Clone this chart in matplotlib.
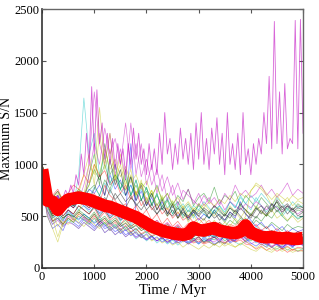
import numpy as np
import matplotlib
matplotlib.use('Agg')
import matplotlib.pyplot as plt

plt.rcParams['font.family'] = ['Liberation Serif', 'DejaVu Serif']

# thin runs, one value every 100 Myr from 0 to 5000
blue_runs = [
    [1000, 620, 480, 520, 450, 560, 500, 470, 520, 480, 430, 470, 400, 440, 380, 420, 360, 390, 330, 300,
     270, 310, 260, 290, 250, 280, 240, 270, 230, 260, 300, 250, 280, 230, 260, 300, 240, 270, 320, 250,
     280, 350, 230, 200, 260, 220, 180, 230, 200, 250, 220],
    [800, 500, 380, 420, 360, 480, 440, 400, 470, 430, 380, 450, 420, 360, 400, 330, 370, 310, 350, 290,
     330, 270, 300, 250, 280, 230, 260, 290, 240, 270, 230, 280, 250, 300, 240, 330, 280, 260, 350, 300,
     330, 270, 350, 240, 200, 230, 190, 250, 210, 260, 230],
    [950, 700, 600, 650, 560, 620, 580, 640, 600, 560, 620, 530, 580, 500, 560, 470, 520, 1200, 490, 420,
     460, 380, 430, 360, 400, 340, 390, 330, 380, 320, 370, 350, 300, 360, 400, 330, 380, 340, 420, 360,
     390, 320, 370, 330, 300, 340, 280, 320, 260, 300, 280],
    [900, 560, 450, 480, 420, 520, 470, 430, 490, 450, 400, 440, 380, 400, 350, 380, 320, 350, 300, 330,
     280, 310, 260, 300, 240, 280, 260, 300, 250, 290, 240, 300, 260, 320, 270, 310, 250, 290, 330, 280,
     240, 210, 250, 220, 270, 230, 200, 240, 210, 230, 220],
    [1000, 780, 650, 700, 620, 680, 640, 720, 680, 760, 720, 800, 700, 900, 760, 850, 700, 800, 650, 740,
     600, 680, 560, 640, 520, 600, 500, 560, 480, 540, 460, 520, 480, 560, 500, 460, 540, 480, 640, 520,
     460, 400, 440, 380, 420, 360, 400, 340, 380, 350, 370],
]
green_runs = [
    [900, 750, 620, 680, 600, 700, 650, 720, 680, 750, 800, 700, 850, 760, 900, 820, 750, 880, 700, 820,
     760, 680, 800, 650, 720, 600, 700, 640, 760, 600, 680, 720, 640, 780, 620, 700, 660, 740, 600, 700,
     640, 580, 680, 620, 560, 640, 520, 600, 560, 620, 580],
    [1000, 800, 700, 620, 680, 600, 650, 700, 620, 900, 1100, 800, 1200, 900, 1000, 750, 950, 700, 850, 650,
     780, 600, 720, 560, 650, 520, 600, 480, 560, 500, 620, 540, 480, 560, 500, 440, 520, 460, 400, 480,
     420, 500, 450, 520, 480, 560, 500, 450, 520, 470, 500],
    [850, 600, 450, 500, 420, 480, 440, 500, 460, 420, 480, 400, 440, 380, 420, 360, 400, 340, 380, 320,
     350, 300, 330, 280, 310, 270, 300, 260, 320, 280, 300, 250, 290, 270, 310, 260, 300, 280, 330, 290,
     260, 300, 250, 280, 240, 270, 230, 260, 240, 280, 250],
    [950, 700, 600, 650, 580, 640, 600, 680, 700, 800, 950, 850, 1000, 820, 900, 760, 860, 700, 800, 660,
     740, 620, 700, 600, 660, 580, 640, 560, 620, 540, 600, 560, 520, 600, 540, 500, 580, 520, 600, 560,
     520, 580, 540, 500, 560, 600, 540, 580, 520, 560, 540],
    [820, 600, 500, 540, 480, 520, 500, 560, 520, 480, 540, 460, 500, 440, 480, 420, 460, 400, 440, 380,
     420, 360, 400, 350, 380, 330, 370, 340, 380, 350, 400, 360, 420, 380, 440, 400, 460, 420, 480, 440,
     400, 460, 420, 380, 440, 400, 360, 420, 380, 400, 390],
]
red_runs = [
    [950, 650, 520, 600, 500, 560, 520, 600, 560, 520, 580, 480, 540, 460, 500, 420, 480, 400, 440, 380,
     420, 350, 400, 330, 370, 300, 350, 280, 320, 260, 300, 240, 280, 300, 260, 230, 270, 250, 290, 260,
     320, 250, 280, 230, 200, 240, 180, 210, 170, 200, 190],
    [1000, 800, 700, 760, 650, 720, 680, 760, 700, 650, 720, 620, 800, 700, 650, 580, 620, 540, 600, 500,
     560, 460, 520, 420, 480, 400, 450, 380, 430, 360, 410, 340, 390, 330, 370, 310, 350, 320, 380, 330,
     300, 340, 280, 310, 260, 300, 240, 280, 250, 290, 260],
    [700, 550, 450, 480, 420, 500, 460, 520, 480, 440, 500, 420, 460, 400, 440, 370, 410, 350, 380, 330,
     360, 310, 340, 290, 320, 270, 300, 250, 280, 240, 260, 230, 250, 220, 260, 240, 280, 250, 270, 230,
     220, 180, 210, 170, 200, 160, 190, 150, 180, 160, 170],
    [900, 700, 580, 640, 560, 620, 580, 660, 620, 580, 660, 560, 620, 540, 600, 520, 560, 480, 520, 460,
     480, 420, 460, 400, 430, 380, 410, 360, 400, 350, 380, 330, 360, 310, 350, 300, 340, 310, 360, 300,
     280, 320, 270, 300, 250, 280, 230, 270, 240, 260, 250],
    [1000, 760, 620, 680, 600, 720, 800, 760, 900, 820, 1000, 880, 940, 800, 860, 720, 800, 660, 740, 600,
     680, 560, 620, 520, 580, 480, 540, 460, 500, 440, 480, 420, 460, 400, 440, 380, 420, 400, 460, 420,
     380, 420, 360, 400, 340, 380, 330, 360, 320, 350, 340],
]
cyan_runs = [
    [900, 700, 560, 620, 540, 640, 600, 900, 1640, 1100, 1300, 900, 1100, 800, 1000, 760, 900, 700, 850, 650,
     780, 600, 720, 560, 680, 520, 640, 500, 600, 480, 560, 520, 480, 560, 600, 520, 640, 580, 700, 620,
     560, 680, 600, 540, 620, 580, 500, 560, 520, 480, 500],
    [980, 720, 600, 560, 640, 580, 620, 560, 600, 540, 580, 520, 560, 480, 520, 450, 500, 420, 460, 400,
     440, 380, 420, 360, 400, 340, 380, 320, 360, 300, 340, 280, 320, 300, 340, 280, 320, 350, 300, 380,
     330, 400, 350, 300, 360, 320, 280, 330, 290, 260, 300],
    [800, 550, 420, 480, 400, 460, 420, 380, 440, 400, 360, 420, 340, 380, 320, 360, 300, 340, 280, 320,
     260, 300, 240, 280, 230, 270, 220, 260, 240, 280, 230, 270, 250, 220, 260, 230, 290, 250, 220, 260,
     300, 240, 280, 220, 200, 180, 220, 170, 200, 160, 190],
    [1000, 760, 640, 700, 620, 700, 660, 760, 720, 680, 780, 700, 820, 720, 860, 760, 700, 800, 680, 760,
     640, 720, 600, 680, 580, 640, 560, 620, 540, 600, 560, 640, 580, 520, 600, 540, 640, 580, 680, 620,
     700, 640, 720, 660, 600, 680, 620, 560, 640, 580, 600],
    [870, 600, 480, 520, 460, 540, 500, 460, 520, 480, 440, 500, 420, 460, 400, 440, 380, 420, 360, 400,
     340, 380, 320, 360, 300, 340, 300, 350, 310, 360, 320, 380, 340, 300, 360, 320, 380, 340, 300, 360,
     320, 290, 340, 300, 270, 320, 280, 250, 300, 270, 280],
]
magenta_runs = [
    [950, 720, 600, 560, 640, 580, 700, 650, 800, 1000, 1700, 1200, 1000, 1300, 900, 1150, 850, 1400, 900, 1200,
     800, 1000, 720, 900, 650, 800, 600, 750, 700, 650, 600, 700, 620, 680, 600, 720, 650, 800, 700, 750,
     680, 720, 800, 700, 760, 680, 740, 820, 700, 760, 720],
    [1000, 750, 640, 700, 600, 660, 620, 700, 650, 600, 680, 580, 640, 540, 600, 500, 560, 480, 520, 450,
     500, 420, 460, 400, 440, 380, 420, 360, 400, 340, 380, 320, 360, 340, 380, 320, 360, 300, 340, 280,
     320, 300, 260, 290, 250, 280, 240, 270, 230, 260, 240],
    [980, 740, 620, 680, 600, 660, 620, 700, 660, 900, 1200, 1000, 1350, 1100, 1250, 1000, 1400, 950, 1200, 880,
     1050, 800, 950, 740, 880, 700, 820, 660, 760, 620, 720, 600, 680, 580, 660, 560, 640, 600, 560, 620,
     580, 640, 600, 560, 620, 580, 540, 600, 560, 520, 560],
    [760, 520, 420, 460, 400, 440, 420, 380, 440, 400, 360, 420, 340, 380, 320, 360, 300, 340, 290, 320,
     270, 300, 260, 290, 250, 280, 240, 270, 230, 260, 280, 240, 270, 250, 290, 240, 280, 260, 300, 250,
     230, 260, 220, 250, 210, 240, 200, 230, 210, 240, 220],
]
yellow_runs = [
    [900, 500, 380, 250, 420, 480, 440, 520, 700, 1000, 900, 1550, 1000, 1300, 850, 1100, 800, 950, 700, 850,
     620, 750, 560, 680, 500, 620, 480, 560, 440, 520, 420, 480, 400, 460, 380, 440, 400, 480, 420, 500,
     750, 800, 760, 700, 600, 700, 620, 680, 600, 650, 620],
    [850, 600, 480, 300, 450, 420, 480, 440, 400, 460, 420, 380, 440, 360, 400, 340, 380, 320, 350, 290,
     320, 260, 290, 240, 270, 220, 250, 200, 240, 210, 180, 220, 190, 230, 200, 250, 220, 200, 240, 210,
     180, 160, 200, 170, 150, 190, 160, 180, 150, 170, 160],
    [1000, 780, 650, 720, 620, 680, 640, 720, 900, 1100, 800, 1300, 950, 1150, 850, 1000, 760, 900, 700, 820,
     650, 750, 600, 700, 560, 650, 520, 600, 500, 580, 540, 620, 560, 500, 580, 520, 600, 540, 480, 560,
     500, 600, 540, 500, 560, 480, 520, 460, 500, 440, 480],
    [1000, 800, 680, 740, 660, 720, 680, 760, 720, 800, 1000, 900, 1150, 950, 1050, 880, 980, 820, 900, 760,
     840, 700, 780, 660, 720, 620, 680, 580, 640, 560, 620, 580, 640, 600, 660, 620, 700, 640, 720, 680,
     740, 820, 780, 720, 660, 720, 680, 640, 700, 660, 680],
    [900, 650, 520, 400, 480, 520, 480, 540, 500, 460, 520, 440, 480, 420, 460, 400, 440, 380, 420, 360,
     390, 330, 360, 300, 340, 280, 320, 260, 300, 250, 280, 240, 260, 220, 250, 210, 240, 200, 230, 260,
     220, 190, 230, 200, 170, 210, 180, 200, 170, 190, 180],
]
black_runs = [
    [950, 720, 600, 660, 580, 640, 600, 680, 640, 600, 700, 620, 680, 600, 720, 640, 580, 680, 620, 560,
     640, 580, 520, 600, 540, 500, 580, 520, 480, 560, 500, 460, 540, 480, 520, 460, 540, 500, 580, 520,
     480, 560, 600, 520, 580, 640, 560, 600, 540, 580, 560],
    [880, 650, 520, 580, 500, 560, 520, 600, 560, 520, 600, 500, 560, 480, 540, 460, 500, 440, 480, 420,
     460, 400, 440, 380, 420, 360, 400, 340, 380, 340, 380, 330, 370, 320, 360, 330, 380, 340, 400, 360,
     330, 380, 340, 310, 360, 330, 300, 340, 310, 350, 320],
    [1000, 800, 680, 740, 640, 700, 660, 740, 700, 660, 760, 900, 700, 1050, 800, 950, 700, 880, 650, 800,
     600, 720, 560, 660, 520, 620, 480, 580, 460, 540, 500, 560, 480, 540, 460, 520, 480, 560, 500, 440,
     520, 480, 560, 500, 620, 540, 600, 520, 580, 500, 540],
    [920, 700, 580, 640, 560, 620, 580, 660, 620, 580, 640, 700, 620, 760, 660, 720, 640, 700, 600, 660,
     560, 620, 520, 580, 500, 560, 480, 540, 500, 560, 520, 580, 540, 600, 560, 500, 580, 540, 620, 560,
     500, 580, 520, 600, 540, 660, 580, 620, 560, 600, 580],
    [850, 620, 500, 540, 480, 520, 490, 540, 500, 460, 520, 440, 480, 420, 460, 400, 430, 380, 410, 360,
     390, 340, 370, 330, 360, 320, 350, 310, 340, 300, 330, 300, 320, 290, 330, 300, 340, 310, 350, 320,
     300, 330, 290, 320, 280, 310, 270, 300, 280, 300, 290],
]

# the one run that climbs far above the rest, one value every 50 Myr
outlier = [620, 600, 700, 560, 650, 600, 700, 620, 680, 750, 700, 800, 720, 900, 800, 1100, 900, 1300, 1000, 1750,
           1100, 1720, 1200, 1400, 1050, 1300, 1000, 1250, 950, 1200, 1000, 1150, 900, 1200, 1000, 1350, 1050, 1300, 1000, 1150,
           900, 1200, 950, 1150, 900, 1300, 1000, 1500, 1100, 1250, 950, 1200, 1000, 1350, 1050, 1250, 1000, 1300, 950, 1400,
           1050, 1500, 1000, 1250, 950, 1350, 1100, 1450, 1000, 1300, 900, 1500, 1000, 1200, 950, 1300, 900, 1500, 1000, 1150,
           900, 1200, 1000, 1250, 1100, 1500, 1200, 1850, 1150, 2380, 1200, 1700, 1100, 1780, 1150, 1250, 1200, 2390, 1150, 2400,
           1300]

# thick curve through the middle of the bundle
mean_sn = [950, 650, 640, 560, 620, 660, 670, 680, 670, 660, 640, 620, 600, 590, 570, 550, 530, 510, 490, 460,
           430, 400, 380, 360, 345, 335, 325, 320, 330, 390, 365, 360, 375, 385, 360, 350, 340, 335, 350, 410,
           340, 320, 300, 295, 300, 290, 285, 290, 280, 280, 290]

fig = plt.figure(figsize=(3.19, 3.0), dpi=100)
ax = fig.add_axes([0.132, 0.107, 0.818, 0.863])

groups = [('b', blue_runs), ('g', green_runs), ('r', red_runs), ('c', cyan_runs),
          ('m', magenta_runs), ('y', yellow_runs), ('k', black_runs)]
for col, runs in groups:
    for v in runs:
        ax.plot(np.linspace(0, 5000, len(v)), v, color=col, lw=0.5, alpha=0.5)
ax.plot(np.linspace(0, 5000, len(outlier)), outlier, color='m', lw=0.6, alpha=0.6)
ax.plot(np.linspace(0, 5000, len(mean_sn)), mean_sn, color='red', lw=9,
        solid_capstyle='butt', solid_joinstyle='round')

ax.set_xlim(0, 5000)
ax.set_ylim(0, 2500)
ax.set_xticks([0, 1000, 2000, 3000, 4000, 5000])
ax.set_yticks([0, 500, 1000, 1500, 2000, 2500])
ax.tick_params(direction='in', top=True, right=True, labelsize=9, length=3, pad=2, color='#555555')
for s in ['left', 'bottom']:
    ax.spines[s].set_color('#333333')
    ax.spines[s].set_linewidth(1.2)
for s in ['top', 'right']:
    ax.spines[s].set_color('#666666')
    ax.spines[s].set_linewidth(1.0)
ax.set_xlabel('Time / Myr', fontsize=10.5, labelpad=1)
ax.set_ylabel('Maximum S/N', fontsize=10, labelpad=1)

plt.savefig('out.png', dpi=100)
